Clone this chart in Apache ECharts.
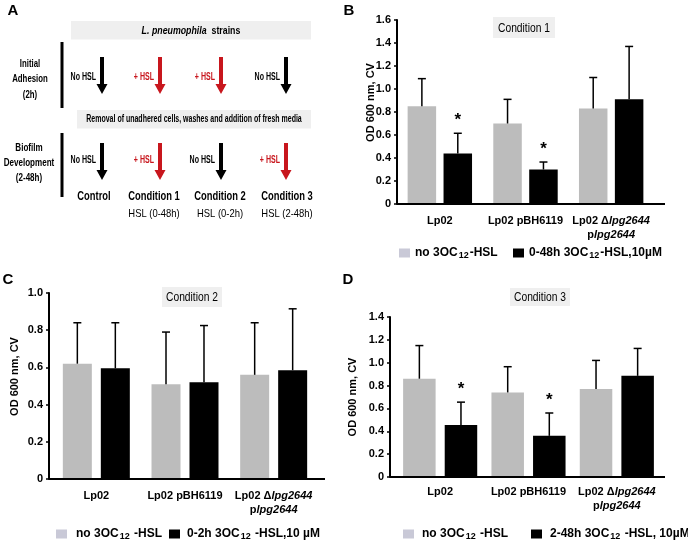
<!DOCTYPE html>
<html>
<head>
<meta charset="utf-8">
<script src="https://cdn.jsdelivr.net/npm/echarts@6/dist/echarts.min.js"></script>
<style>
  html, body { margin: 0; padding: 0; background: #fff; }
  #main { width: 688px; height: 544px; }
</style>
</head>
<body>
<div id="main"></div>
<script>
    // strains on the x axis of B, C, D
    var strains = ['Lp02', 'Lp02 pBH6119', 'Lp02 \u0394lpg2644\nplpg2644'];

    // B - condition 1 (mean OD600 and SD)
    var c1NoHsl = [0.85, 0.70, 0.83];
    var c1NoHslSd = [0.24, 0.21, 0.27];
    var c1Hsl = [0.44, 0.30, 0.91];
    var c1HslSd = [0.175, 0.065, 0.46];
    var c1Sig = [1, 1, 0];

    // C - condition 2
    var c2NoHsl = [0.62, 0.51, 0.56];
    var c2NoHslSd = [0.22, 0.28, 0.28];
    var c2Hsl = [0.595, 0.52, 0.585];
    var c2HslSd = [0.245, 0.305, 0.33];
    var c2Sig = [0, 0, 0];

    // D - condition 3
    var c3NoHsl = [0.86, 0.74, 0.77];
    var c3NoHslSd = [0.29, 0.225, 0.25];
    var c3Hsl = [0.455, 0.36, 0.885];
    var c3HslSd = [0.20, 0.20, 0.24];
    var c3Sig = [1, 1, 0];

    // y axis ranges
    var yMaxB = 1.6, yMaxC = 1.0, yMaxD = 1.4, yStep = 0.2;

    // legend names
    var noHslB = 'no 3OC12-HSL';
    var noHslCD = 'no 3OC12 -HSL';
    var hslB = '0-48h 3OC12-HSL,10\u00b5M';
    var hslC = '0-2h 3OC12 -HSL,10 \u00b5M';
    var hslD = '2-48h 3OC12 -HSL, 10\u00b5M';
    var conditionTitles = ['Condition 1', 'Condition 2', 'Condition 3'];

    // panel A scheme
    var adhesionHsl = [0, 1, 1, 0];
    var biofilmHsl = [0, 1, 0, 1];
    var conditionNames = ['Control', 'Condition 1', 'Condition 2', 'Condition 3'];
    var conditionWindows = ['', 'HSL (0-48h)', 'HSL (0-2h)', 'HSL (2-48h)'];

    var FONT = '"Liberation Sans", Arial, sans-serif';
    var GRAY = '#bcbcbc';
    var LEG_GRAY = '#c9c9d7';
    var RED = '#c8161d';

    // panel layout
    var panels = [
        {left: 397, top: 20, width: 257, height: 184, axisX: 397, endX: 665, max: yMaxB, barW: 28.5, gap: 0.26, nameGap: 21, namePad: 19, labelMargin: 10,
            title: [493, 17, 62, 21]},
        {left: 52, top: 293, width: 266, height: 186, axisX: 49, endX: 325, max: yMaxC, barW: 29, gap: 0.31, nameGap: 29, namePad: 19, labelMargin: 10,
            title: [162, 287, 60, 20]},
        {left: 396, top: 317, width: 265, height: 160, axisX: 390, endX: 665, max: yMaxD, barW: 32.5, gap: 0.28, nameGap: 32, namePad: 0, labelMargin: 8,
            title: [510, 288, 60, 18]}
    ];

    var myChart = echarts.init(document.getElementById('main'));

    function errorBars(idx, means, sds, sig, side) {
        var p = panels[idx];
        return {
            type: 'custom',
            xAxisIndex: idx,
            yAxisIndex: idx,
            silent: true,
            z: 5,
            data: means.map(function (m, k) { return [k, m, m + sds[k], sig[k]]; }),
            renderItem: function (params, api) {
                var base = api.coord([api.value(0), api.value(1)]);
                var top = api.coord([api.value(0), api.value(2)]);
                var x = base[0] + side * (p.barW + p.barW * p.gap) / 2;
                var kids = [
                    {type: 'line', shape: {x1: x, y1: base[1], x2: x, y2: top[1]}, style: {stroke: '#000', lineWidth: 1.5}},
                    {type: 'line', shape: {x1: x - 4, y1: top[1], x2: x + 4, y2: top[1]}, style: {stroke: '#000', lineWidth: 1.5}}
                ];
                if (api.value(3)) {
                    kids.push({type: 'text', style: {text: '*', x: x, y: top[1] - 13, align: 'center', verticalAlign: 'middle',
                        font: 'bold 17px ' + FONT, fill: '#000'}});
                }
                return {type: 'group', children: kids};
            }
        };
    }

    function barSeries(idx, name, data, color) {
        var p = panels[idx];
        return {
            name: name, type: 'bar', xAxisIndex: idx, yAxisIndex: idx,
            barWidth: p.barW, barGap: Math.round(p.gap * 100) + '%',
            itemStyle: {color: color},
            data: data
        };
    }

    var legendText = {
        fontFamily: FONT, fontWeight: 'bold', fontSize: 12, color: '#000',
        rich: {sub: {fontFamily: FONT, fontWeight: 'bold', fontSize: 9, padding: [5, 1, 0, 1]}}
    };
    function legendAt(name, color, left, top, padLeft) {
        return {
            data: [{name: name, itemStyle: {color: color}}],
            left: left, top: top, padding: 0,
            icon: 'rect', itemWidth: 11, itemHeight: 9,
            selectedMode: false,
            formatter: function (n) { return n.replace('12', '{sub|12}'); },
            textStyle: Object.assign({padding: [0, 0, 0, padLeft]}, legendText)
        };
    }

    // panel A graphic and text decorations
    var graphics = [];
    function txt(s, x, y, font, color, align, sx, lh) {
        graphics.push({type: 'text', x: x, y: y, scaleX: sx || 1, z: 20,
            style: {text: s, font: font, fill: color || '#000',
            align: align || 'center', verticalAlign: 'middle', lineHeight: lh || 15}});
    }
    function box(x, y, w, h) {
        graphics.push({type: 'rect', z: 19, shape: {x: x, y: y, width: w, height: h}, style: {fill: '#efefef'}});
    }
    function arrow(x, y1, y2, color) {
        graphics.push({type: 'polygon', shape: {points: [[x - 2, y1], [x + 2, y1], [x + 2, y2 - 10], [x + 5.5, y2 - 10],
            [x, y2], [x - 5.5, y2 - 10], [x - 2, y2 - 10]]}, style: {fill: color}});
    }
    function vline(x, y1, y2) {
        graphics.push({type: 'line', shape: {x1: x, y1: y1, x2: x, y2: y2}, style: {stroke: '#000', lineWidth: 3}});
    }

    txt('A', 13, 11, 'bold 15px ' + FONT);
    txt('B', 349, 11, 'bold 15px ' + FONT);
    txt('C', 8, 280, 'bold 15px ' + FONT);
    txt('D', 348, 280, 'bold 15px ' + FONT);

    box(71, 21, 240, 18.5);
    graphics.push({type: 'text', x: 191, y: 30.5, scaleX: 0.8, z: 20, style: {text: '{i|L. pneumophila}  strains',
        font: 'bold 11px ' + FONT, fill: '#000', align: 'center', verticalAlign: 'middle',
        rich: {i: {font: 'italic bold 11px ' + FONT}}}});
    box(77, 110, 234, 18.5);
    txt('Removal of unadhered cells, washes and addition of fresh media', 194, 119.5, 'bold 10px ' + FONT, '#000', 'center', 0.7);

    vline(62, 42, 108);
    vline(62, 133, 197);
    txt('Initial\nAdhesion\n(2h)', 30, 79, 'bold 11.5px ' + FONT, '#000', 'center', 0.68, 15.5);
    txt('Biofilm\nDevelopment\n(2-48h)', 29, 163, 'bold 11.5px ' + FONT, '#000', 'center', 0.7, 15);

    var arrowX = [102, 160, 221, 286];
    var condX = [94, 154, 220, 287];
    adhesionHsl.forEach(function (h, k) {
        arrow(arrowX[k], 57, 94, h ? RED : '#000');
        txt(h ? '+ HSL' : 'No HSL', arrowX[k] - 6, 77, 'bold 11px ' + FONT, h ? RED : '#000', 'right', 0.64);
    });
    biofilmHsl.forEach(function (h, k) {
        arrow(arrowX[k], 143, 180, h ? RED : '#000');
        txt(h ? '+ HSL' : 'No HSL', arrowX[k] - 6, 160, 'bold 11px ' + FONT, h ? RED : '#000', 'right', 0.64);
    });
    conditionNames.forEach(function (n, k) {
        txt(n, condX[k], 197, 'bold 12.5px ' + FONT, '#000', 'center', 0.75);
        if (conditionWindows[k]) txt(conditionWindows[k], condX[k], 213.5, '11.5px ' + FONT, '#000', 'center', 0.82);
    });

    // condition title boxes of B, C, D
    panels.forEach(function (p, i) {
        var t = p.title;
        box(t[0], t[1], t[2], t[3]);
        txt(conditionTitles[i], t[0] + t[2] / 2, t[1] + t[3] / 2 + 0.5, '13px ' + FONT, '#000', 'center', 0.79);
    });

    // baselines that run from the y axis past the last category
    panels.forEach(function (p) {
        graphics.push({type: 'line', z: 10, shape: {x1: p.axisX, y1: p.top + p.height, x2: p.endX, y2: p.top + p.height},
            style: {stroke: '#000', lineWidth: 2}});
    });

    option = {
        animation: false,
        backgroundColor: '#fff',
        legend: [
            legendAt(noHslB, LEG_GRAY, 399, 247, 0),
            legendAt(hslB, '#000', 513, 247, 0),
            legendAt(noHslCD, LEG_GRAY, 56, 528, 4),
            legendAt(hslC, '#000', 169, 528, 2),
            legendAt(noHslCD, LEG_GRAY, 403, 528, 3),
            legendAt(hslD, '#000', 531, 528, 3)
        ],
        grid: panels.map(function (p) {
            return {left: p.left, top: p.top, width: p.width, height: p.height};
        }),
        xAxis: panels.map(function (p, i) {
            return {
                type: 'category', gridIndex: i, data: strains,
                axisLine: {show: false},
                axisTick: {show: false},
                axisLabel: {
                    interval: 0, margin: p.labelMargin, color: '#000',
                    fontFamily: FONT, fontWeight: 'bold', fontSize: 11, lineHeight: 14,
                    formatter: function (v) { return v.replace(/lpg2644/g, '{it|lpg2644}'); },
                    rich: {it: {fontFamily: FONT, fontWeight: 'bold', fontStyle: 'italic', fontSize: 11, lineHeight: 14}}
                }
            };
        }),
        yAxis: panels.map(function (p, i) {
            return {
                type: 'value', gridIndex: i, min: 0, max: p.max, interval: yStep,
                offset: p.left - p.axisX,
                splitLine: {show: false},
                axisLine: {show: true, lineStyle: {color: '#000', width: 2}},
                axisTick: {show: true, length: 3, lineStyle: {color: '#000', width: 1.5}},
                axisLabel: {
                    color: '#000', fontFamily: FONT, fontWeight: 'bold', fontSize: 11, margin: 6,
                    formatter: function (v) { return v === 0 ? '0' : v.toFixed(1); }
                },
                name: 'OD 600 nm, CV', nameLocation: 'middle', nameRotate: 90, nameGap: p.nameGap,
                nameMoveOverlap: false,
                nameTextStyle: {color: '#000', fontFamily: FONT, fontWeight: 'bold', fontSize: 11,
                    padding: [0, 0, 0, p.namePad]}
            };
        }),
        series: [
            barSeries(0, noHslB, c1NoHsl, GRAY),
            barSeries(0, hslB, c1Hsl, '#000'),
            errorBars(0, c1NoHsl, c1NoHslSd, [0, 0, 0], -1),
            errorBars(0, c1Hsl, c1HslSd, c1Sig, 1),
            barSeries(1, noHslCD, c2NoHsl, GRAY),
            barSeries(1, hslC, c2Hsl, '#000'),
            errorBars(1, c2NoHsl, c2NoHslSd, [0, 0, 0], -1),
            errorBars(1, c2Hsl, c2HslSd, c2Sig, 1),
            barSeries(2, noHslCD, c3NoHsl, GRAY),
            barSeries(2, hslD, c3Hsl, '#000'),
            errorBars(2, c3NoHsl, c3NoHslSd, [0, 0, 0], -1),
            errorBars(2, c3Hsl, c3HslSd, c3Sig, 1)
        ],
        graphic: graphics
    };
    myChart.setOption(option);
</script>
</body>
</html>
